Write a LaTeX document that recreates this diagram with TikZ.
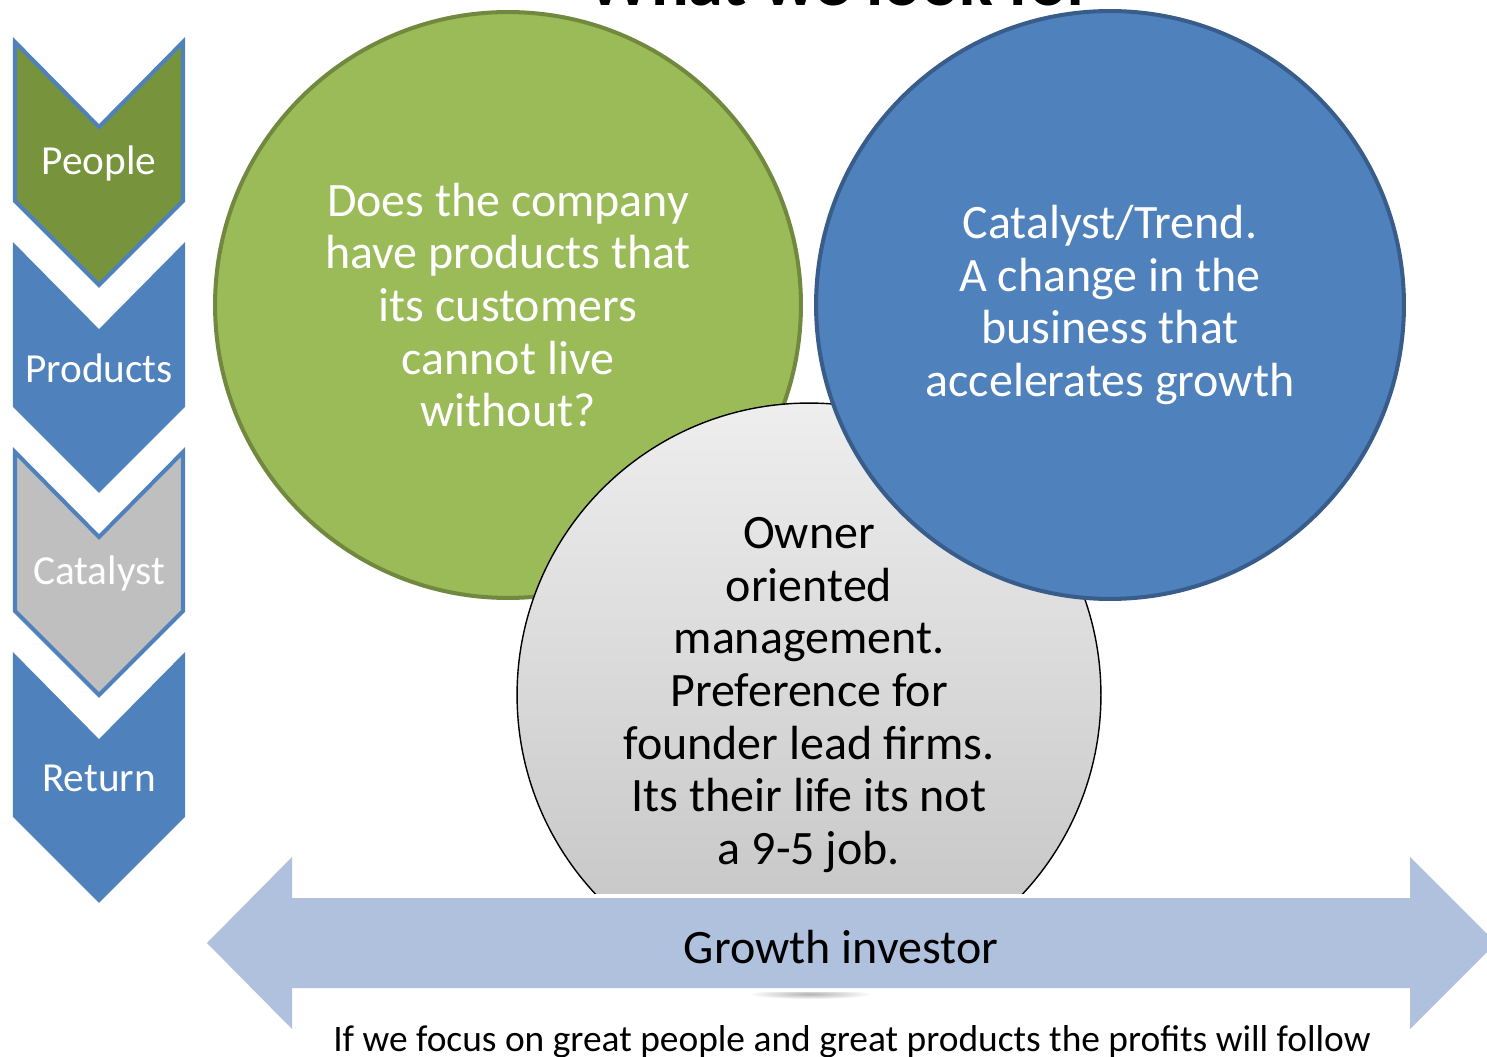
\documentclass[tikz,border=0pt]{standalone}
\usepackage{fontspec}
\setmainfont{Carlito}
\definecolor{greenfill}{HTML}{9BBB59}
\definecolor{greenedge}{HTML}{71893F}
\definecolor{bluefill}{HTML}{4F81BD}
\definecolor{blueedge}{HTML}{385D8A}
\definecolor{chevgreen}{HTML}{77933C}
\definecolor{chevgrey}{HTML}{BFBFBF}
\definecolor{greytop}{HTML}{EEEEEE}
\definecolor{greybot}{HTML}{C2C2C2}
\definecolor{arrowblue}{HTML}{B0C1DD}
\begin{document}
\begin{tikzpicture}[x=0.02cm,y=-0.02cm,
    circtext/.style={circle, align=center, inner sep=0pt, font=\fontsize{27.3}{30}\selectfont},
    chev/.style={line width=2.3pt, line join=miter},
    chevtext/.style={text=white, font=\fontsize{23.5}{28}\selectfont}]
\useasboundingbox (0,0) rectangle (1487,1057);
\clip (0,0) rectangle (1487,1057);
% title, cut off by the top edge
\node[anchor=base, font=\fontsize{40}{48}\selectfont\bfseries] (title) at (840,6) {What we look for};
% chevrons down the left side
\foreach \y/\lbl/\col/\edge in {40/People/chevgreen/bluefill, 245/Products/bluefill/bluefill,
    450/Catalyst/chevgrey/bluefill, 655/Return/bluefill/bluefill}{
  \filldraw[chev, fill=\col, draw=\edge] (15,\y+2) -- (99,\y+87) -- (183,\y+2) -- (183,\y+161)
      -- (99,\y+245) -- (15,\y+161) -- cycle;
  \node[chevtext] (chev-\lbl) at (99,\y+123) {\lbl};
}
% the three circles
\node[circtext, minimum size=11.72cm, fill=greenfill, draw=greenedge, line width=2.3pt, text=white]
    (products) at (508,305) {Does the company\\have products that\\its customers\\cannot live\\without?};
\node[circtext, minimum size=11.68cm, top color=greytop, bottom color=greybot, draw=black, line width=0.8pt]
    (owners) at (809,695) {Owner\\oriented\\management.\\Preference for\\founder lead firms.\\Its their life its not\\a 9-5 job.};
\node[circtext, minimum size=11.76cm, fill=bluefill, draw=blueedge, line width=2.3pt, text=white]
    (trend) at (1110,305) {Catalyst/Trend.\\A change in the\\business that\\accelerates growth};
% shadow under the arrow
\shade[inner color=black!30, outer color=white] (810,994) ellipse (62 and 5);
% double arrow
\path[fill=arrowblue, preaction={draw=white, line width=4.5pt}]
    (207,943) -- (292,857) -- (292,898) -- (1410,898) -- (1410,857) -- (1496,943)
    -- (1410,1029) -- (1410,988) -- (292,988) -- (292,1029) -- cycle;
\node[font=\fontsize{27.3}{30}\selectfont] (growth) at (841,947) {Growth investor};
\node[anchor=base, font=\fontsize{21.3}{25}\selectfont] (follow) at (852,1051)
    {If we focus on great people and great products the profits will follow};
\end{tikzpicture}
\end{document}
